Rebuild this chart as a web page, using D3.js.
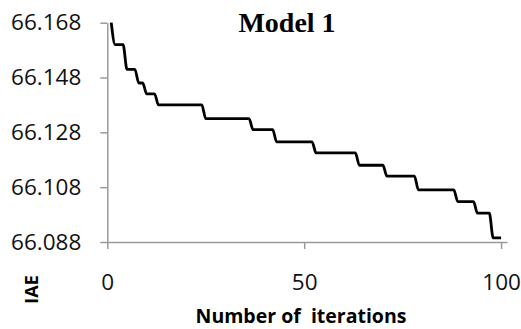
<!DOCTYPE html>
<html>
<head>
<meta charset="utf-8">
<script src="https://cdn.jsdelivr.net/npm/d3@7"></script>
<style>
  html, body { margin: 0; padding: 0; background: #fff; }
  svg { display: block; }
</style>
</head>
<body>
<div id="chart"></div>
<script>
// Corner points of the stepped IAE curve (iteration, IAE)
const iterations = [1, 2, 4, 5, 7, 8, 9, 10, 12, 13, 24, 25, 36, 37, 42, 43, 52, 53,
                    63, 64, 70, 71, 78, 79, 88, 89, 93, 94, 97, 98, 100];
const iaeValues = [66.168, 66.160, 66.160, 66.151, 66.151, 66.146, 66.146, 66.142, 66.142,
                   66.138, 66.138, 66.133, 66.133, 66.129, 66.129, 66.1245, 66.1245, 66.1205,
                   66.1205, 66.116, 66.116, 66.112, 66.112, 66.107, 66.107, 66.1027, 66.1027,
                   66.0985, 66.0985, 66.0895, 66.0895];
const xTicks = [0, 50, 100];
const yTicks = [66.088, 66.108, 66.128, 66.148, 66.168];

const width = 521, height = 329;

const svg = d3.select('#chart')
    .append('svg')
    .attr('width', width)
    .attr('height', height);

// Scales
const x = d3.scaleLinear().domain([0, 101.5]).range([107.3, 507]);
const y = d3.scaleLinear().domain([66.088, 66.168]).range([242, 22.7]);

const axisColor = '#9a9a9a';

// Y axis
const yAxis = svg.append('g')
    .attr('transform', `translate(${x(0)},0)`)
    .call(d3.axisLeft(y).tickValues(yTicks).tickFormat(d3.format('.3f'))
        .tickSize(7).tickSizeOuter(0).tickPadding(19));

// X axis
const xAxis = svg.append('g')
    .attr('transform', `translate(0,${y(66.088)})`)
    .call(d3.axisBottom(x).tickValues(xTicks).tickFormat(d3.format('d'))
        .tickSize(7).tickSizeOuter(0).tickPadding(25));

[yAxis, xAxis].forEach(g => {
    g.select('.domain').attr('stroke', axisColor).attr('stroke-width', 1.5);
    g.selectAll('.tick line').attr('stroke', axisColor).attr('stroke-width', 1.5);
    g.selectAll('.tick text')
        .attr('fill', '#111')
        .attr('font-family', '"Open Sans", sans-serif')
        .attr('font-size', '22.5px');
});

// Line
const points = iterations.map((it, i) => [it, iaeValues[i]]);
svg.append('path')
    .datum(points)
    .attr('fill', 'none')
    .attr('stroke', '#000')
    .attr('stroke-width', 2.8)
    .attr('stroke-linejoin', 'round')
    .attr('d', d3.line().x(d => x(d[0])).y(d => y(d[1])).curve(d3.curveMonotoneX));

// Title
svg.append('text')
    .attr('x', 287)
    .attr('y', 32)
    .attr('text-anchor', 'middle')
    .attr('font-family', '"Liberation Serif", "Times New Roman", serif')
    .attr('font-weight', 'bold')
    .attr('font-size', '28px')
    .attr('fill', '#000')
    .text('Model 1');

// Axis titles
svg.append('text')
    .attr('x', 301)
    .attr('y', 323)
    .attr('text-anchor', 'middle')
    .attr('font-family', '"Open Sans", sans-serif')
    .attr('font-weight', 'bold')
    .attr('font-size', '19.5px')
    .attr('fill', '#000')
    .style('white-space', 'pre')
    .text('Number of  iterations');

svg.append('text')
    .attr('transform', 'translate(38,289.5) rotate(-90)')
    .attr('text-anchor', 'middle')
    .attr('font-family', '"Open Sans", sans-serif')
    .attr('font-weight', 'bold')
    .attr('font-size', '18px')
    .attr('fill', '#000')
    .text('IAE');
</script>
</body>
</html>
